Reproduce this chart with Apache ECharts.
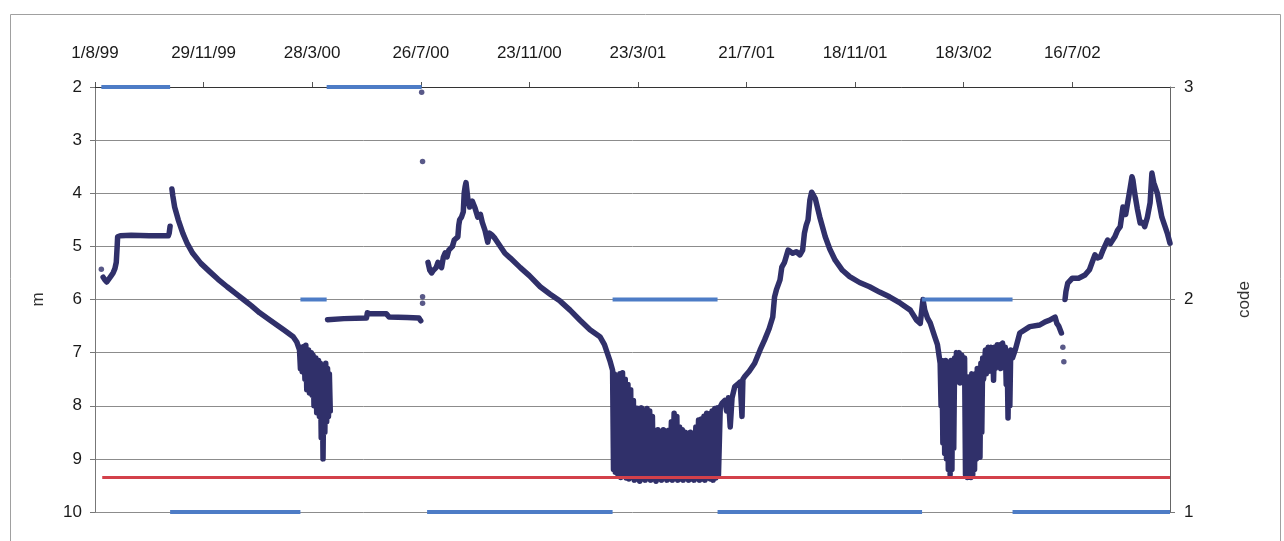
<!DOCTYPE html>
<html><head><meta charset="utf-8">
<script src="https://cdn.jsdelivr.net/npm/echarts@6/dist/echarts.min.js"></script>
<style>html,body{margin:0;padding:0;background:#fff}#c{width:1284px;height:541px}</style>
</head><body><div id="c"></div>
<script>
// x values are days since 1 Aug 1999
const xTickLabels = ['1/8/99','29/11/99','28/3/00','26/7/00','23/11/00','23/3/01','21/7/01','18/11/01','18/3/02','16/7/02'];
const xMaxDay = 1188;

const depthSegA = [[9,5.58],[11,5.63],[13,5.67],[15,5.65],[18,5.55],[20,5.5],[22,5.42],[23.5,5.3],[24.5,5.0],[25,4.82],[28,4.8],[40,4.79],[60,4.8],[75,4.8],[81,4.8],[82,4.75],[83,4.62]];

const depthSegB = [[85,3.92],[86,4.05],[88,4.26],[92,4.5],[97,4.75],[102,4.95],[108,5.13],[117,5.32],[127,5.48],[136,5.62],[146,5.76],[155,5.88],[164,6.0],[173,6.12],[182,6.25],[192,6.37],[201,6.48],[210,6.59],[219,6.7],[223,6.8],
[226,6.95],[227,7.3],[228,6.9],[229,7.36],[231,6.88],[232,7.5],[233,6.86],[234,7.7],[236,6.95],[237,7.76],[239,7.0],[240,7.8],[241,7.05],[242,8.0],[244,7.1],[245,8.13],[247,7.15],[248,8.2],[249,7.2],[250,8.6],[251,7.25],[252,9.0],[253,7.3],[254,8.5],[255,7.2],[256,8.3],[257,7.3],[258,8.2],[259,7.4],[260,8.1]];

const depthSegC = [[257,6.38],[275,6.36],[300,6.35],[301,6.25],[304,6.27],[322,6.27],[325,6.33],[345,6.34],[358,6.35],[360,6.4]];

const depthSegD = [[368,5.3],[370,5.45],[372,5.5],[374,5.45],[377,5.4],[379,5.3],[381,5.31],[383,5.4],[385,5.2],[387,5.12],[389,5.2],[391,5.07],[393,5.1],[395,5.0],[397,4.88],[399,4.9],[401,4.82],[402,4.6],[403,4.5],[405,4.45],[407,4.35],[408,4.0],[409,3.88],[410,3.8],
[412,4.1],[414,4.26],[417,4.15],[420,4.28],[423,4.45],[426,4.4],[428,4.55],[431,4.7],[434,4.92],[436,4.75],[439,4.79],[442,4.85],[444,4.88],[453,5.13],[459,5.22],[470,5.4],[480,5.55],[492,5.76],[503,5.9],[514,6.03],[525,6.2],[536,6.39],[547,6.57],[558,6.7],[563,6.85],[566,7.0],[569,7.15],
[572,7.33],[573,9.2],[574,7.4],[575,9.25],[577,7.45],[578,9.3],[580,7.4],[581,9.35],[583,7.38],[584,9.3],[586,7.5],[587,9.36],[589,7.6],[590,9.38],[592,7.7],[593,9.35],[595,7.9],[596,9.4],[598,8.04],[599,9.38],[601,8.05],[602,9.42],[604,8.04],[605,9.38],[607,8.1],[608,9.4],[610,8.05],[611,9.36],[613,8.1],[614,9.4],[616,8.2],[617,9.38],[619,8.46],[620,9.42],[622,8.45],[623,9.38],[625,8.5],[626,9.4],[628,8.45],[629,9.36],[631,8.48],[632,9.4],[634,8.46],[635,9.38],[637,8.3],[638,9.4],[640,8.14],[641,9.36],[643,8.2],[644,9.4],[646,8.4],[647,9.38],[649,8.45],[650,9.4],[652,8.5],[653,9.36],[655,8.52],[656,9.4],[658,8.5],[659,9.38],[661,8.52],[662,9.4],[664,8.4],[665,9.36],[667,8.27],[668,9.4],[670,8.25],[671,9.38],[673,8.2],[674,9.4],[676,8.14],[677,9.36],[679,8.15],[680,9.38],[682,8.1],[683,9.4],[685,8.05],[686,9.36],[688,8.04],[689,9.3],[691,8.02],
[693,7.95],[696,7.9],[698,8.1],[700,7.85],[702,8.4],[704,7.85],[707,7.64],[710,7.6],[713,7.55],[715,8.2],[716,7.5],[718,7.45],[723,7.35],[729,7.2],[735,6.95],[740,6.76],[745,6.55],[749,6.33],[751,5.95],[753,5.82],[757,5.63],[759,5.39],[762,5.3],[766,5.07],[771,5.13],[775,5.1],[779,5.16],[782,5.07],[784,4.75],[786,4.6],[788,4.5],[790,4.13],[792,3.98],
[796,4.1],[801,4.45],[807,4.82],[812,5.05],[818,5.26],[826,5.45],[834,5.57],[845,5.68],[856,5.76],[867,5.86],[878,5.95],[890,6.07],[901,6.2],[908,6.39],[912,6.45],[913,6.3],[915,6.0],[917,6.2],[920,6.35],[923,6.44],[928,6.7],[931,6.85],
[934,7.2],[935,8.0],[936,7.15],[937,8.7],[938,7.2],[939,8.9],[940,7.15],[941,9.0],[942,7.2],[943,9.2],[944,7.2],[945,9.3],[946,7.15],[947,9.2],[948,7.2],[949,8.8],[950,7.1],[951,7.5],[952,7.0],[953,7.55],[955,7.0],[956,7.57],[958,7.05],[959,7.5],[961,7.1],[962,9.3],[963,7.46],[964,9.35],[965,7.46],[966,9.3],[967,7.46],[968,9.35],[969,7.4],[970,9.3],[971,7.46],[972,9.2],[973,7.4],[974,9.0],[975,7.3],[976,8.9],[977,7.3],[978,8.97],[979,7.2],[980,8.5],[981,7.1],[982,7.5],[984,6.95],[985,7.4],[987,6.9],[988,7.35],[990,6.9],[991,7.3],[992,6.95],[993,7.52],[994,6.9],[995,7.3],[997,6.85],[998,7.27],[1000,6.85],[1001,7.3],[1003,6.82],[1004,7.2],[1006,6.9],[1007,7.6],[1008,7.0],[1009,8.23],[1010,7.0],[1011,8.0],[1012,6.95],[1014,7.1],[1017,6.95],
[1022,6.63],[1033,6.51],[1044,6.48],[1050,6.42],[1055,6.39],[1061,6.33],[1063,6.45],[1065,6.5],[1068,6.63]];

const depthSegE = [[1072,6.0],[1073,5.85],[1075,5.69],[1080,5.6],[1087,5.6],[1094,5.54],[1099,5.44],[1102,5.3],[1105,5.16],[1108,5.22],[1111,5.2],[1114,5.07],[1116,5.1],[1119,4.88],[1122,4.95],[1124,4.95],[1127,4.82],[1130,4.7],[1133,4.63],[1136,4.26],[1139,4.4],[1141,4.37],[1144,3.9],[1146,3.69],[1147,3.75],[1149,4.0],[1152,4.3],[1155,4.56],[1158,4.55],[1160,4.63],[1163,4.45],[1166,4.18],[1168,3.62],[1170,3.8],[1174,4.0],[1179,4.45],[1182,4.6],[1185,4.75],[1188,4.94]];

const depthSegments = [depthSegA, depthSegB, depthSegC, depthSegD, depthSegE];
const depthDots = [[7,5.43],[361,2.1],[362,3.4],[362,5.95],[362,6.07],[1069.6,6.9],[1070.7,7.17]];

const redLevel = 9.35;
const redFromDay = 8;
const redToDay = 1188;

// [startDay, endDay, code]
const codeSegments = [[7,83,3],[83,227,1],[227,256,2],[256,361,3],[367,572,1],[572,688,2],[688,914,1],[914,1014,2],[1014,1188,1]];

const NAVY = '#30306a', RED = '#d3404a', BLUE = '#4d7cc6';
const FONT = 'Liberation Sans, Arial, sans-serif';

const series = [];
depthSegments.forEach(seg => series.push({
  type: 'line', xAxisIndex: 0, yAxisIndex: 0, data: seg, showSymbol: false, clip: false,
  lineStyle: { color: NAVY, width: 5.5, cap: 'round', join: 'round' }, z: 2
}));
series.push({ type: 'scatter', yAxisIndex: 0, data: depthDots, symbolSize: 5.5, itemStyle: { color: NAVY }, z: 2 });
series.push({ type: 'line', yAxisIndex: 0, data: [[redFromDay, redLevel],[redToDay, redLevel]], showSymbol: false, clip: false,
  lineStyle: { color: RED, width: 3 }, z: 3 });
codeSegments.forEach(s => series.push({
  type: 'line', yAxisIndex: 1, data: [[s[0], s[2]],[s[1], s[2]]], showSymbol: false, clip: false,
  lineStyle: { color: BLUE, width: 4 }, z: 4
}));

const chart = echarts.init(document.getElementById('c'), null, { renderer: 'canvas' });
chart.setOption({
  animation: false,
  backgroundColor: '#fff',
  textStyle: { fontFamily: FONT },
  grid: { left: 95, right: 114, top: 87, bottom: 29, containLabel: false, outerBoundsMode: 'none' },
  graphic: [{ type: 'rect', left: 8, top: 12, shape: { width: 1270, height: 540 }, style: { fill: 'none', stroke: '#a0a0a0', lineWidth: 1 }, silent: true }],
  xAxis: {
    type: 'value', position: 'top', min: 0, max: xMaxDay, interval: 120,
    axisLine: { show: true, lineStyle: { color: '#333', width: 1 } },
    axisTick: { show: true, inside: false, length: 5, lineStyle: { color: '#555' } },
    axisLabel: { margin: 25, fontSize: 17, color: '#1a1a1a', fontFamily: FONT, showMaxLabel: false,
      formatter: v => (v % 120 === 0 && xTickLabels[v / 120]) ? xTickLabels[v / 120] : '' },
    splitLine: { show: false }
  },
  yAxis: [{
    type: 'value', inverse: true, min: 2, max: 10, interval: 1, position: 'left',
    name: 'm', nameLocation: 'middle', nameRotate: 90, nameGap: 48,
    nameTextStyle: { fontSize: 17, color: '#333', fontFamily: FONT },
    axisLine: { show: true, lineStyle: { color: '#777' } },
    axisTick: { show: true, inside: false, length: 5, lineStyle: { color: '#777' } },
    axisLabel: { margin: 13, fontSize: 17, color: '#1a1a1a', fontFamily: FONT },
    splitLine: { show: true, lineStyle: { color: '#8c8c8c', width: 1 } }
  }, {
    type: 'value', min: 1, max: 3, interval: 1, position: 'right',
    name: 'code', nameLocation: 'middle', nameRotate: 90, nameGap: 66,
    nameTextStyle: { fontSize: 17, color: '#333', fontFamily: FONT },
    axisLine: { show: true, lineStyle: { color: '#666' } },
    axisTick: { show: true, inside: false, length: 5, lineStyle: { color: '#777' } },
    axisLabel: { margin: 14, fontSize: 17, color: '#1a1a1a', fontFamily: FONT },
    splitLine: { show: false }
  }],
  series: series
});
</script>
</body></html>
